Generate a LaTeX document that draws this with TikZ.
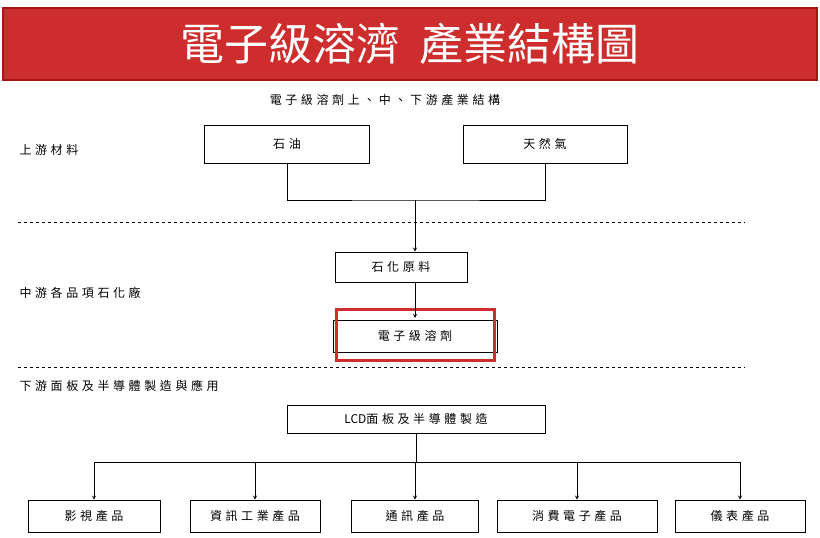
\documentclass[tikz,border=0pt]{standalone}
\usepackage{fontspec}
\setmainfont{Noto Sans CJK TC}
\usetikzlibrary{positioning}
\definecolor{bannerred}{RGB}{205,45,45}
\definecolor{bannerline}{RGB}{170,20,20}
\newcommand{\spaced}{\fontsize{12}{13}\selectfont\addfontfeature{LetterSpace=30}}
\begin{document}
\begin{tikzpicture}[x=1pt,y=-1pt,
                    chainbox/.style={draw, thick, inner sep=0pt, font=\spaced},
                    levellabel/.style={anchor=west, font=\spaced},
                    feed/.style={thick},
                    arr/.style={thick, ->, >=stealth},
                    divider/.style={thick, dashed},
                ]
                    \useasboundingbox (0,0) rectangle (820,538);
                    %Banner
                    \draw[fill=bannerred, draw=bannerline, line width=1.5pt] (3,8) rectangle (817,80);
                    \node[text=white, font=\fontsize{44}{48}\selectfont](title) at (410,44) {電子級溶濟\ \ 產業結構圖};
                    \node[font=\spaced](subtitle) at (385,100) {電子級溶劑上、中、下游產業結構};

                    %Level labels
                    \node[levellabel](up) at (16,150) {上游材料};
                    \node[levellabel](mid) at (16,293) {中游各品項石化廠};
                    \node[levellabel](down) at (16,386) {下游面板及半導體製造與應用};
                    \draw[divider] (18,222) -- (745,222);
                    \draw[divider] (18,367) -- (745,367);

                    %Nodes
                    \node[chainbox, minimum width=165pt, minimum height=38pt](oil) at (287,144) {石油};
                    \node[chainbox, minimum width=164pt, minimum height=38pt](gas) at (545,144) {天然氣};
                    \coordinate (join) at (415,200);
                    \node[chainbox, minimum width=132pt, minimum height=30pt](petro) at (401,267) {石化原料};
                    \node[chainbox, minimum width=164pt, minimum height=32pt](solvent) at (415,336) {電子級溶劑};
                    \draw[bannerred, line width=3pt] (336,309) rectangle (494,360);
                    \node[chainbox, minimum width=258pt, minimum height=28pt](lcd) at (416,419) {{\addfontfeature{LetterSpace=0}LCD}面板及半導體製造};
                    \coordinate (split) at (416,462);
                    \node[chainbox, minimum width=132pt, minimum height=32pt](av) at (94,516) {影視產品};
                    \node[chainbox, minimum width=130pt, minimum height=32pt](it) at (255,516) {資訊工業產品};
                    \node[chainbox, minimum width=127pt, minimum height=32pt](comm) at (415,516) {通訊產品};
                    \node[chainbox, minimum width=160pt, minimum height=32pt](cons) at (577,516) {消費電子產品};
                    \node[chainbox, minimum width=130pt, minimum height=32pt](meter) at (740,516) {儀表產品};

                    %Lines
                    \draw[feed] (oil.south) |- (join) -| (gas.south);
                    \draw[arr] (join) -- (join |- petro.north);
                    \draw[arr] (petro.south -| 415,0) -- (415,318);
                    \draw[feed] (lcd.south) -- (split);
                    \draw[feed] (av.north |- split) -- (meter.north |- split);
                    \foreach \n in {av,it,comm,cons,meter}
                        \draw[arr] (\n.north |- split) -- (\n.north);
                \end{tikzpicture}
\end{document}
